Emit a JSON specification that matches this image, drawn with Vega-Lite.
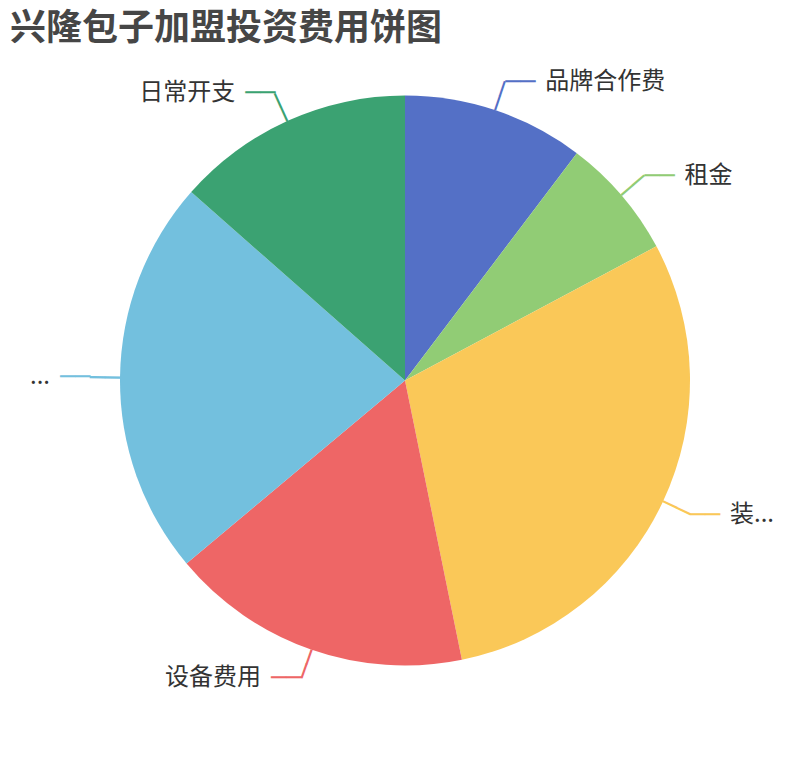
{
  "$schema": "https://vega.github.io/schema/vega-lite/v6.json",
  "description": "兴隆包子加盟投资费用饼图",
  "width": 810,
  "height": 760,
  "autosize": {"type": "fit", "contains": "padding"},
  "padding": {"top": 11, "bottom": 47, "left": 0, "right": 0},
  "background": "#ffffff",
  "title": {
    "text": "兴隆包子加盟投资费用饼图",
    "anchor": "start",
    "frame": "group",
    "offset": 0,
    "dx": 10,
    "font": "Noto Sans CJK SC",
    "fontSize": 36,
    "fontWeight": "bold",
    "color": "#464646"
  },
  "data": {
    "values": [
      {"idx": 1, "name": "品牌合作费", "value": 10.3},
      {"idx": 2, "name": "租金", "value": 6.9},
      {"idx": 3, "name": "装...", "value": 29.6},
      {"idx": 4, "name": "设备费用", "value": 17.1},
      {"idx": 5, "name": "...", "value": 22.6},
      {"idx": 6, "name": "日常开支", "value": 13.5}
    ]
  },
  "encoding": {
    "theta": {"field": "value", "type": "quantitative", "stack": true},
    "order": {"field": "idx", "type": "quantitative"},
    "color": {
      "field": "name",
      "type": "nominal",
      "scale": {
        "domain": ["品牌合作费", "租金", "装...", "设备费用", "...", "日常开支"],
        "range": ["#5470c6", "#91cc75", "#fac858", "#ee6666", "#73c0de", "#3ba272"]
      },
      "legend": null
    }
  },
  "layer": [
    {
      "mark": {"type": "arc", "outerRadius": 285, "stroke": null}
    },
    {
      "mark": {"type": "text", "radius": 285, "align": "left", "baseline": "middle", "font": "DejaVu Sans Mono", "fontSize": 25},
      "encoding": {
        "text": {"value": "──"},
        "angle": {
          "field": "idx",
          "type": "quantitative",
          "scale": {"domain": [1, 2, 3, 4, 5, 6], "range": [-71.46, -40.5, 25.2, 109.26, 180.72, 245.7]}
        }
      }
    },
    {
      "mark": {"type": "text", "radius": 315, "align": "left", "baseline": "middle", "font": "DejaVu Sans Mono", "fontSize": 25},
      "encoding": {
        "text": {"condition": {"test": {"field": "name", "oneOf": ["品牌合作费", "租金", "装..."]}, "value": "──"}, "value": ""}
      }
    },
    {
      "mark": {"type": "text", "radius": 315, "align": "right", "baseline": "middle", "font": "DejaVu Sans Mono", "fontSize": 25},
      "encoding": {
        "text": {"condition": {"test": {"field": "name", "oneOf": ["设备费用", "...", "日常开支"]}, "value": "──"}, "value": ""}
      }
    },
    {
      "mark": {"type": "text", "radius": 315, "dx": 40, "align": "left", "baseline": "middle", "font": "Noto Sans CJK SC", "fontSize": 24},
      "encoding": {
        "text": {"condition": {"test": {"field": "name", "oneOf": ["品牌合作费", "租金", "装..."]}, "field": "name"}, "value": ""},
        "color": {"value": "#333333"}
      }
    },
    {
      "mark": {"type": "text", "radius": 315, "dx": -40, "align": "right", "baseline": "middle", "font": "Noto Sans CJK SC", "fontSize": 24},
      "encoding": {
        "text": {"condition": {"test": {"field": "name", "oneOf": ["设备费用", "...", "日常开支"]}, "field": "name"}, "value": ""},
        "color": {"value": "#333333"}
      }
    }
  ],
  "config": {"view": {"stroke": null}}
}
